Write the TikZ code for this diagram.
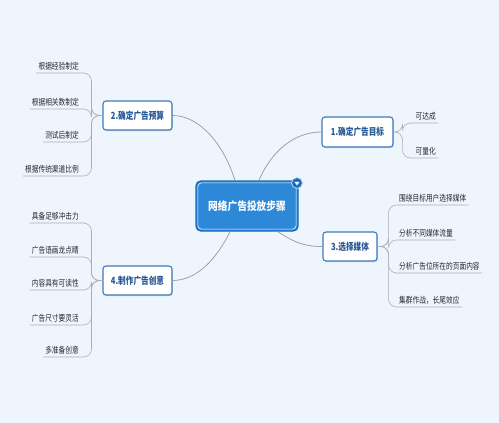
\documentclass[tikz,border=0pt]{standalone}
\usepackage{fontspec}
\usetikzlibrary{shadows}
\newfontfamily\cjk[FakeStretch=0.78]{Noto Sans CJK SC}
\newfontfamily\cjkc[FakeStretch=0.86]{Noto Sans CJK SC}
\definecolor{bg}{RGB}{239,245,253}
\definecolor{linegray}{RGB}{160,160,165}
\definecolor{bborder}{RGB}{62,122,190}
\definecolor{btext}{RGB}{40,88,150}
\definecolor{leaftext}{RGB}{40,40,45}
\definecolor{cfill}{RGB}{45,136,216}
\definecolor{cdark}{RGB}{28,108,190}
\begin{document}
\begin{tikzpicture}[x=1pt,y=-1pt,
  conn/.style={draw=linegray, line width=0.8pt},
  sub/.style={draw=linegray!85, line width=0.6pt, rounded corners=8pt},
  branch/.style={draw=bborder, fill=white, line width=1.1pt, rounded corners=3pt, inner sep=0pt,
     font=\cjk\bfseries\fontsize{9.8}{11}\selectfont, text=btext,
     drop shadow={shadow xshift=0.8pt, shadow yshift=-1.2pt, opacity=0.3}},
  leaf/.style={inner xsep=2pt, inner ysep=2.3pt, font=\cjk\fontsize{8.6}{10}\selectfont, text=leaftext},
  center/.style={draw=cdark, fill=cfill, line width=1.4pt, rounded corners=5pt,
     minimum width=102pt, minimum height=50pt, inner sep=0pt,
     font=\cjkc\bfseries\fontsize{11.3}{13}\selectfont, text=white}
]
\fill[bg] (0,0) rectangle (499,423);

% central node
\node[center] (c) at (247,206) {网络广告投放步骤};
\draw[white, line width=0.6pt, rounded corners=3.5pt]
  ([shift={(2.6pt,2.6pt)}]c.south west) rectangle ([shift={(-2.6pt,-2.6pt)}]c.north east);
\node[circle, fill=cdark, draw=white!70!cfill, line width=0.8pt, minimum size=11pt, inner sep=0pt] (cm) at (297,183) {};
\fill[white] ([shift={(-2.6pt,1.2pt)}]cm.center) -- ([shift={(2.6pt,1.2pt)}]cm.center) -- ([shift={(0pt,-2.4pt)}]cm.center) -- cycle;

% branch nodes
\node[branch, minimum width=71pt, minimum height=30pt] (n1) at (357.5,132) {1.确定广告目标};
\node[branch, minimum width=69pt, minimum height=29pt] (n2) at (137.5,115.5) {2.确定广告预算};
\node[branch, minimum width=54pt, minimum height=29pt] (n3) at (350,246.5) {3.选择媒体};
\node[branch, minimum width=69pt, minimum height=29pt] (n4) at (137.5,280.5) {4.制作广告创意};

% main connectors
\draw[conn] ([xshift=-12pt]c.north) .. controls (224,145) and (200,115.5) .. (n2.east);
\draw[conn] ([xshift=12pt]c.north) .. controls (272,150) and (295,132) .. (n1.west);
\draw[conn] ([xshift=-17pt]c.south) .. controls (215,262) and (195,280.5) .. (n4.east);
\draw[conn] ([xshift=31pt]c.south) .. controls (295,243) and (305,246.5) .. (n3.west);

% leaves of 1
\node[leaf, anchor=south east] (k1) at (438,123) {可达成};
\node[leaf, anchor=south east] (k2) at (438,158) {可量化};
\foreach \k in {k1,k2} \draw[sub] (n1.east) -- ++(9,0) |- (\k.south east);

% leaves of 3
\node[leaf, anchor=south west] (m1) at (397,205) {围绕目标用户选择媒体};
\node[leaf, anchor=south west] (m2) at (397,240) {分析不同媒体流量};
\node[leaf, anchor=south west] (m3) at (397,273) {分析广告位所在的页面内容};
\node[leaf, anchor=south west] (m4) at (397,307) {集群作战，长尾效应};
\foreach \k in {m1,m2,m3,m4} \draw[sub] (n3.east) -- ++(11,0) |- (\k.south east);

% leaves of 2
\node[leaf, anchor=south east] (a1) at (81,73) {根据经验制定};
\node[leaf, anchor=south east] (a2) at (81,109) {根据相关数制定};
\node[leaf, anchor=south east] (a3) at (81,142) {测试后制定};
\node[leaf, anchor=south east] (a4) at (81,176) {根据传统渠道比例};
\foreach \k in {a1,a2,a3,a4} \draw[sub] (n2.west) -- ++(-11,0) |- (\k.south west);

% leaves of 4
\node[leaf, anchor=south east] (b1) at (81,223) {具备足够冲击力};
\node[leaf, anchor=south east] (b2) at (81,257) {广告语画龙点睛};
\node[leaf, anchor=south east] (b3) at (81,290) {内容具有可读性};
\node[leaf, anchor=south east] (b4) at (81,325) {广告尺寸要灵活};
\node[leaf, anchor=south east] (b5) at (81,357) {多准备创意};
\foreach \k in {b1,b2,b3,b4,b5} \draw[sub] (n4.west) -- ++(-11,0) |- (\k.south west);
\end{tikzpicture}
\end{document}
